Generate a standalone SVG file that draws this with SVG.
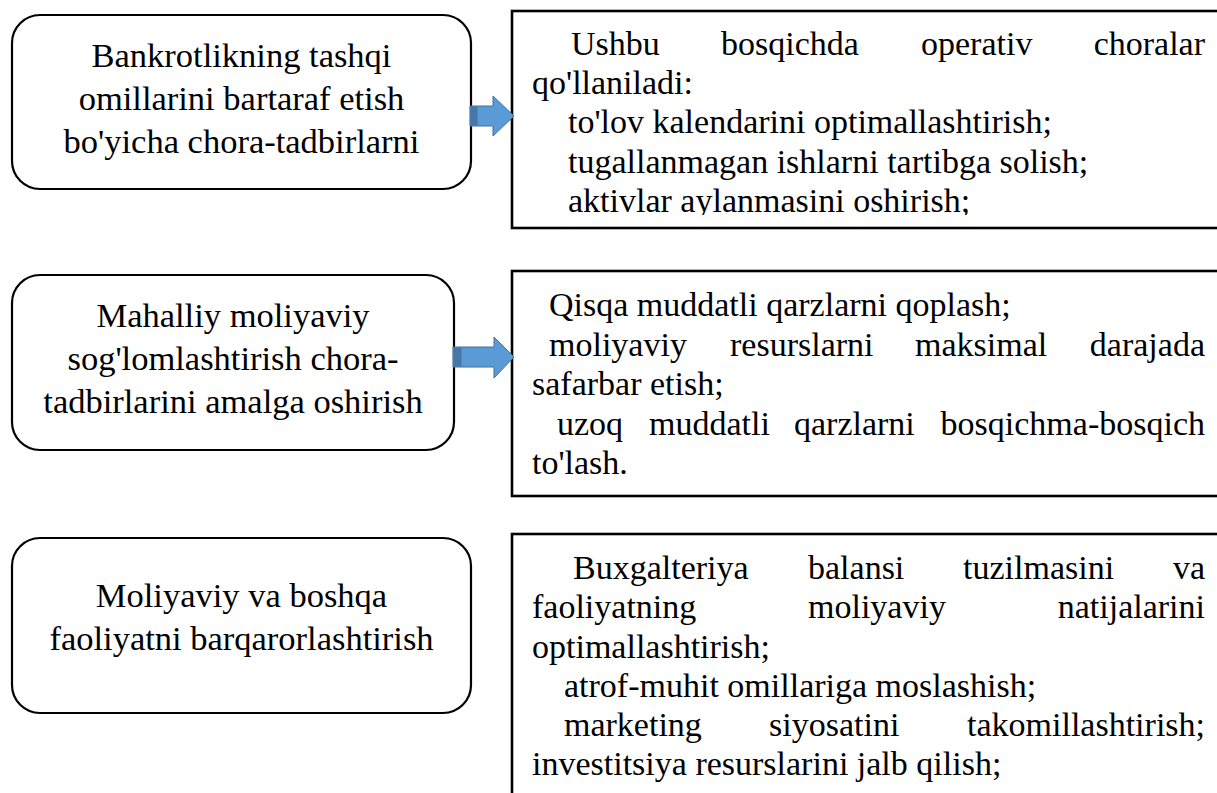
<svg xmlns="http://www.w3.org/2000/svg" width="1217" height="793" viewBox="0 0 1217 793">
<style>
  .rb{fill:#fff;stroke:#000;stroke-width:2.2}
  .sb{fill:#fff;stroke:#000;stroke-width:2.6}
  text{font-family:"Liberation Serif","Times New Roman",serif;font-size:34px;fill:#000}
  .c{text-anchor:middle;font-size:34.5px}
  .e{text-anchor:end}
  .arr{fill:#5B9BD5;stroke:#41719C;stroke-width:1}
  .ad{fill:#4677A8}
</style>
<defs>
  <clipPath id="clip1"><rect x="512" y="11" width="705" height="204"/></clipPath>
</defs>
<rect width="1217" height="793" fill="#fff"/>

<g id="node-left-1">
  <rect class="rb" x="12" y="15" width="459" height="174" rx="28" ry="28"/>
  <text class="c" x="241.5" y="67">Bankrotlikning tashqi</text>
  <text class="c" x="241.5" y="110">omillarini bartaraf etish</text>
  <text class="c" x="241.5" y="153">bo'yicha chora-tadbirlarni</text>
</g>

<g id="node-right-1">
  <rect class="sb" x="512" y="11" width="720" height="217"/>
  <g clip-path="url(#clip1)">
    <text x="571" y="55">Ushbu</text>
    <text x="721" y="55">bosqichda</text>
    <text x="921" y="55">operativ</text>
    <text class="e" x="1205" y="55">choralar</text>
    <text x="532" y="94">qo'llaniladi:</text>
    <text x="568" y="133">to'lov kalendarini optimallashtirish;</text>
    <text x="568" y="173">tugallanmagan ishlarni tartibga solish;</text>
    <text x="568" y="212">aktivlar aylanmasini oshirish;</text>
  </g>
</g>

<g id="node-left-2">
  <rect class="rb" x="12" y="275" width="442" height="175" rx="28" ry="28"/>
  <text class="c" x="233" y="327">Mahalliy moliyaviy</text>
  <text class="c" x="233" y="370">sog'lomlashtirish chora-</text>
  <text class="c" x="233" y="413">tadbirlarini amalga oshirish</text>
</g>

<g id="node-right-2">
  <rect class="sb" x="512" y="271" width="720" height="225"/>
  <text x="549" y="316">Qisqa muddatli qarzlarni qoplash;</text>
  <text x="549" y="356">moliyaviy</text>
  <text x="730" y="356">resurslarni</text>
  <text x="915" y="356">maksimal</text>
  <text class="e" x="1205" y="356">darajada</text>
  <text x="532" y="395">safarbar etish;</text>
  <text x="557" y="435">uzoq</text>
  <text x="649" y="435">muddatli</text>
  <text x="794" y="435">qarzlarni</text>
  <text class="e" x="1205" y="435">bosqichma-bosqich</text>
  <text x="532" y="474">to'lash.</text>
</g>

<g id="node-left-3">
  <rect class="rb" x="12" y="538" width="459" height="175" rx="28" ry="28"/>
  <text class="c" x="241.5" y="607">Moliyaviy va boshqa</text>
  <text class="c" x="241.5" y="650">faoliyatni barqarorlashtirish</text>
</g>

<g id="node-right-3">
  <rect class="sb" x="512" y="534" width="720" height="280"/>
  <text x="573" y="579">Buxgalteriya</text>
  <text x="808" y="579">balansi</text>
  <text x="963" y="579">tuzilmasini</text>
  <text class="e" x="1205" y="579">va</text>
  <text x="532" y="618">faoliyatning</text>
  <text x="808" y="618">moliyaviy</text>
  <text class="e" x="1205" y="618">natijalarini</text>
  <text x="532" y="658">optimallashtirish;</text>
  <text x="564" y="697">atrof-muhit omillariga moslashish;</text>
  <text x="564" y="736">marketing</text>
  <text x="769" y="736">siyosatini</text>
  <text class="e" x="1205" y="736">takomillashtirish;</text>
  <text x="532" y="775">investitsiya resurslarini jalb qilish;</text>
</g>

<g id="connectors">
  <path class="arr" d="M470,106 H493 V96 L514,116 L493,136 V126 H470 Z"/>
  <rect class="ad" x="470.5" y="106.5" width="7" height="19"/>
  <path class="arr" d="M453,347 H494 V337 L514,357 L494,378 V367 H453 Z"/>
  <rect class="ad" x="453.5" y="347.5" width="8" height="19"/>
</g>
</svg>
